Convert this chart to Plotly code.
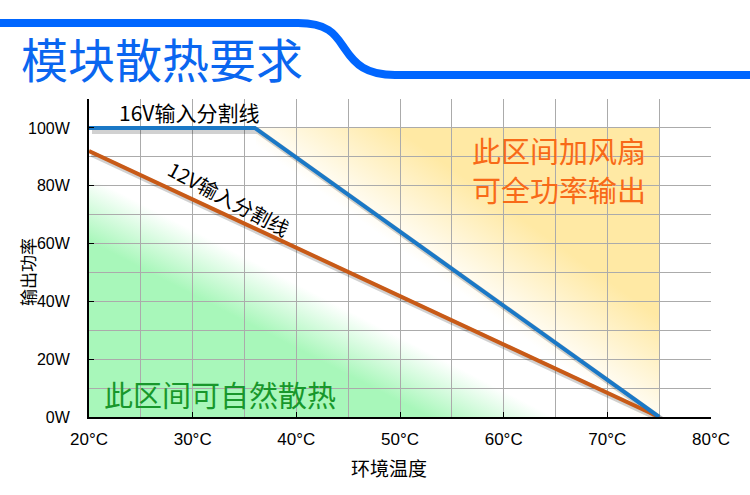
import base64
import plotly.graph_objects as go

# ---- data ----
x_16v = [20, 36, 75]
y_16v = [100, 100, 0]
x_12v = [20, 75]
y_12v = [92, 0]
x_tick_vals = [20, 30, 40, 50, 60, 70, 80]
x_tick_text = ["20°C", "30°C", "40°C", "50°C", "60°C", "70°C", "80°C"]
y_tick_vals = [0, 20, 40, 60, 80, 100]
y_tick_text = ["0W", "20W", "40W", "60W", "80W", "100W"]

W, H = 750, 495
ML, MR, MT, MB = 89, 39, 99, 78
PW, PH = W - ML - MR, H - MT - MB

def px2paper(px, py):
    return (px - ML) / PW, (H - MB - py) / PH

CJK = "Noto Sans CJK SC"
LAT = "Liberation Sans, Noto Sans CJK SC"

# ---- background gradients (SVG, plot-area pixel space) ----
svg = f'''<svg xmlns="http://www.w3.org/2000/svg" width="{PW}" height="{PH}" viewBox="0 0 {PW} {PH}" preserveAspectRatio="none">
<defs>
<linearGradient id="g" gradientUnits="userSpaceOnUse" x1="0" y1="{PH}" x2="119.6" y2="{PH-231.4}">
<stop offset="0" stop-color="#a8f7ba" stop-opacity="1"/>
<stop offset="0.60" stop-color="#a8f7ba" stop-opacity="1"/>
<stop offset="0.82" stop-color="#a8f7ba" stop-opacity="0"/>
</linearGradient>
<linearGradient id="y" gradientUnits="userSpaceOnUse" x1="220" y1="85" x2="276" y2="7">
<stop offset="0" stop-color="#ffe9a4" stop-opacity="0"/>
<stop offset="1" stop-color="#ffe9a4" stop-opacity="1"/>
</linearGradient>
</defs>
<rect x="0" y="0" width="{PW}" height="{PH}" fill="url(#g)"/>
<rect x="167" y="29" width="403" height="{PH-29}" fill="url(#y)"/>
</svg>'''
svg_uri = "data:image/svg+xml;base64," + base64.b64encode(svg.encode()).decode()

fig = go.Figure()

# shadows (shifted axes)
fig.add_trace(go.Scatter(x=x_16v, y=y_16v, mode="lines", xaxis="x2", yaxis="y2",
                         line=dict(color="rgba(0,0,0,0.18)", width=6), hoverinfo="skip", showlegend=False))
fig.add_trace(go.Scatter(x=x_12v, y=y_12v, mode="lines", xaxis="x2", yaxis="y2",
                         line=dict(color="rgba(0,0,0,0.18)", width=6), hoverinfo="skip", showlegend=False))
# main lines
fig.add_trace(go.Scatter(x=x_12v, y=y_12v, mode="lines", xaxis="x3", yaxis="y3",
                         line=dict(color="#c85a17", width=4), showlegend=False))
fig.add_trace(go.Scatter(x=x_16v, y=y_16v, mode="lines", xaxis="x3", yaxis="y3",
                         line=dict(color="#1a78c6", width=4), showlegend=False))

dx = 3 / PW * 60
dy = 3 / PH * 110

grid = "#ababab"
fig.update_layout(
    width=W, height=H,
    margin=dict(l=ML, r=MR, t=MT, b=MB, autoexpand=False),
    paper_bgcolor="white", plot_bgcolor="rgba(0,0,0,0)",
    xaxis=dict(range=[20, 80], tickvals=x_tick_vals, ticktext=x_tick_text,
               ticks="inside", ticklen=5, tickcolor="black", tickwidth=1,
               showline=True, linecolor="black", linewidth=2,
               showgrid=True, gridcolor=grid, gridwidth=1, zeroline=False,
               minor=dict(dtick=5, tick0=20, showgrid=True, gridcolor=grid, gridwidth=1),
               tickfont=dict(family=LAT, size=17, color="black"), ticklabelstandoff=6,
               fixedrange=True),
    yaxis=dict(range=[0, 110], tickvals=y_tick_vals, ticktext=y_tick_text,
               ticks="inside", ticklen=5, tickcolor="black", tickwidth=1,
               showline=True, linecolor="black", linewidth=2,
               showgrid=True, gridcolor=grid, gridwidth=1, zeroline=False,
               minor=dict(dtick=10, tick0=0, showgrid=True, gridcolor=grid, gridwidth=1),
               tickfont=dict(family=LAT, size=16, color="black"), ticklabelstandoff=14,
               fixedrange=True),
    xaxis2=dict(range=[20 - dx, 80 - dx], overlaying="x", visible=False, fixedrange=True),
    yaxis2=dict(range=[0 + dy, 110 + dy], overlaying="y", visible=False, fixedrange=True),
    xaxis3=dict(range=[20, 80], overlaying="x", visible=False, fixedrange=True),
    yaxis3=dict(range=[0, 110], overlaying="y", visible=False, fixedrange=True),
    images=[dict(source=svg_uri, xref="paper", yref="paper", x=0, y=1, sizex=1, sizey=1,
                 xanchor="left", yanchor="top", sizing="stretch", layer="below")],
    showlegend=False,
)

# banner path
pts = [(0, 23), (298, 23), (330, 23), (336, 36), (345, 49), (355, 64), (366, 75), (395, 75), (752, 75)]
p = [px2paper(*q) for q in pts]
path = (f"M{p[0][0]},{p[0][1]} L{p[1][0]},{p[1][1]} "
        f"C{p[2][0]},{p[2][1]} {p[3][0]},{p[3][1]} {p[4][0]},{p[4][1]} "
        f"C{p[5][0]},{p[5][1]} {p[6][0]},{p[6][1]} {p[7][0]},{p[7][1]} "
        f"L{p[8][0]},{p[8][1]}")
fig.add_shape(type="path", path=path, xref="paper", yref="paper",
              line=dict(color="#0066ff", width=8))

def ann_px(text, px, py, size, color, family=CJK, angle=0):
    x, y = px2paper(px, py)
    fig.add_annotation(text=text, x=x, y=y, xref="paper", yref="paper", showarrow=False,
                       font=dict(family=family, size=size, color=color), textangle=angle,
                       xanchor="center", yanchor="middle")

def ann_data(text, x, y, size, color, angle=0):
    fig.add_annotation(text=text, x=x, y=y, xref="x", yref="y", showarrow=False,
                       font=dict(family=CJK, size=size, color=color), textangle=angle,
                       xanchor="center", yanchor="middle", borderpad=0)

ann_px("模块散热要求", 162, 57, 47, "#0a66f0")
ann_px("输出功率", 27, 272, 17, "black", angle=-90)
ann_px("环境温度", 389, 467, 19, "black")

ann_data("16V输入分割线", 29.6, 105.6, 21, "black")
ann_data("12V输入分割线", 33.5, 75.5, 20, "black", angle=28)
ann_data("此区间加风扇", 65.3, 92.2, 29, "#f86a18")
ann_data("可全功率输出", 65.3, 79.0, 29, "#f86a18")
ann_data("此区间可自然散热", 32.6, 7.8, 29, "#18972b")

fig.write_html("out.html", config={"displayModeBar": False},
               post_script="document.body.style.margin='0px';document.body.style.padding='0px';")
